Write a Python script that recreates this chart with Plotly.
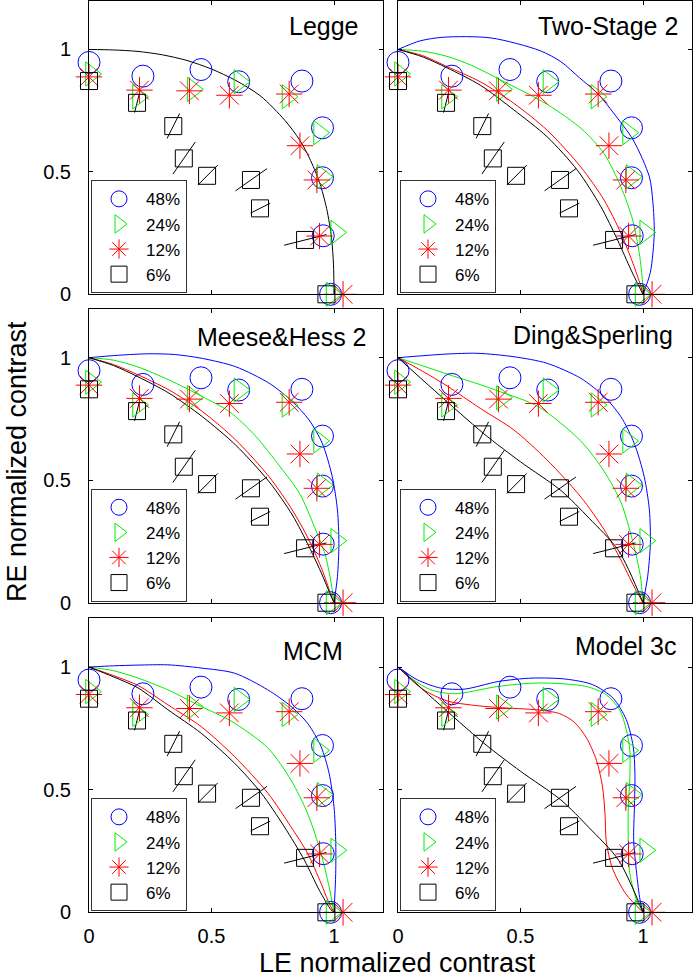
import plotly.graph_objects as go

W, H = 694, 979

# ---------------- measured data (LE, RE normalized contrast) ----------------
c48_x = [0.0, 0.22, 0.457, 0.611, 0.869, 0.953, 0.953, 0.956, 0.986]
c48_y = [0.947, 0.891, 0.918, 0.868, 0.871, 0.68, 0.476, 0.239, 0.0]
c24_x = [0.008, 0.2, 0.424, 0.614, 0.81, 0.939, 0.953, 1.009, 0.99]
c24_y = [0.9, 0.807, 0.837, 0.868, 0.807, 0.66, 0.48, 0.253, 0.0]
c12_x = [0.0, 0.206, 0.41, 0.573, 0.817, 0.861, 0.93, 0.941, 1.037]
c12_y = [0.888, 0.834, 0.831, 0.813, 0.818, 0.607, 0.467, 0.238, 0.0]
c6_x = [0.0, 0.196, 0.344, 0.387, 0.482, 0.661, 0.698, 0.882, 0.969]
c6_y = [0.871, 0.782, 0.687, 0.555, 0.484, 0.467, 0.351, 0.222, 0.0]
# radial confidence interval of the 6% data (fraction of the radius)
c6_lo = [0.99, 0.949, 0.927, 0.885, 0.921, 0.905, 0.945, 0.903, 0.99]
c6_hi = [1.01, 1.057, 1.075, 1.121, 1.09, 1.099, 1.06, 1.099, 1.01]

labels = ["48%", "24%", "12%", "6%"]

# ---------------- model curves ----------------
lg_k_x = [0, 0.1, 0.2, 0.3, 0.4, 0.5, 0.6, 0.7, 0.8, 0.86, 0.9, 0.94, 0.97, 0.99, 0.998, 1.0]
lg_k_y = [1.0, 0.998, 0.992, 0.978, 0.955, 0.92, 0.873, 0.81, 0.71, 0.63, 0.556, 0.46, 0.35, 0.23, 0.12, 0.0]

ts_b_x = [0, 0.09, 0.185, 0.38, 0.58, 0.665, 0.74, 0.817, 0.88, 0.96, 1.026, 1.04, 1.046, 1.03, 1.0]
ts_b_y = [1.0, 1.035, 1.05, 1.047, 0.995, 0.95, 0.885, 0.818, 0.74, 0.63, 0.48, 0.38, 0.249, 0.09, 0.0]
ts_g_x = [0, 0.1, 0.2, 0.3, 0.42, 0.61, 0.75, 0.84, 0.91, 0.958, 0.985, 0.998, 1.0]
ts_g_y = [1.0, 0.993, 0.972, 0.935, 0.875, 0.775, 0.675, 0.576, 0.439, 0.303, 0.167, 0.05, 0.0]
ts_r_x = [0, 0.1, 0.2, 0.336, 0.473, 0.609, 0.746, 0.841, 0.91, 0.964, 0.992, 1.0]
ts_r_y = [1.0, 0.975, 0.93, 0.868, 0.78, 0.67, 0.52, 0.385, 0.249, 0.113, 0.03, 0.0]
ts_k_x = [0, 0.1, 0.2, 0.336, 0.473, 0.609, 0.732, 0.828, 0.896, 0.951, 0.985, 1.0]
ts_k_y = [1.0, 0.97, 0.925, 0.854, 0.753, 0.643, 0.507, 0.358, 0.222, 0.1, 0.03, 0.0]

mh_b_x = [0, 0.12, 0.245, 0.35, 0.463, 0.599, 0.735, 0.83, 0.898, 0.952, 0.993, 1.014, 1.02, 1.014, 1.0]
mh_b_y = [1.0, 1.01, 1.016, 1.013, 0.997, 0.963, 0.896, 0.821, 0.746, 0.651, 0.514, 0.379, 0.242, 0.106, 0.0]
mh_g_x = [0, 0.1, 0.2, 0.327, 0.463, 0.573, 0.68, 0.78, 0.86, 0.92, 0.963, 0.985, 1.0]
mh_g_y = [1.0, 0.99, 0.962, 0.909, 0.841, 0.78, 0.68, 0.555, 0.445, 0.31, 0.2, 0.1, 0.0]
mh_r_x = [0, 0.1, 0.2, 0.327, 0.463, 0.599, 0.735, 0.83, 0.898, 0.952, 0.986, 1.0]
mh_r_y = [1.0, 0.972, 0.93, 0.868, 0.78, 0.664, 0.514, 0.378, 0.256, 0.133, 0.037, 0.0]
mh_k_x = [0, 0.1, 0.2, 0.327, 0.463, 0.599, 0.735, 0.83, 0.898, 0.952, 0.986, 1.0]
mh_k_y = [1.0, 0.968, 0.922, 0.855, 0.759, 0.643, 0.494, 0.358, 0.229, 0.113, 0.031, 0.0]

ds_b_x = [0, 0.1, 0.2, 0.322, 0.473, 0.609, 0.746, 0.842, 0.91, 0.964, 1.005, 1.026, 1.03, 1.019, 1.0]
ds_b_y = [1.0, 1.008, 1.015, 1.018, 1.004, 0.977, 0.916, 0.841, 0.759, 0.651, 0.514, 0.379, 0.242, 0.106, 0.0]
ds_g_x = [0, 0.1, 0.21, 0.336, 0.42, 0.573, 0.746, 0.842, 0.91, 0.958, 0.989, 1.0]
ds_g_y = [1.0, 0.967, 0.93, 0.89, 0.86, 0.8, 0.66, 0.535, 0.41, 0.25, 0.11, 0.0]
ds_r_x = [0, 0.1, 0.2, 0.336, 0.473, 0.609, 0.746, 0.842, 0.91, 0.964, 1.0]
ds_r_y = [1.0, 0.945, 0.885, 0.793, 0.705, 0.582, 0.432, 0.297, 0.174, 0.065, 0.0]
ds_k_x = [0, 0.15, 0.35, 0.5, 0.665, 0.78, 0.9, 1.0]
ds_k_y = [1.0, 0.865, 0.69, 0.575, 0.458, 0.345, 0.213, 0.0]

mc_b_x = [0, 0.1, 0.2, 0.322, 0.458, 0.594, 0.73, 0.824, 0.892, 0.947, 0.98, 1.0, 1.007, 1.007, 1.0]
mc_b_y = [1.0, 1.005, 1.008, 1.009, 0.996, 0.975, 0.907, 0.84, 0.771, 0.676, 0.567, 0.43, 0.295, 0.159, 0.0]
mc_g_x = [0, 0.1, 0.2, 0.322, 0.458, 0.58, 0.73, 0.824, 0.892, 0.947, 0.98, 1.0]
mc_g_y = [1.0, 0.985, 0.955, 0.907, 0.839, 0.78, 0.67, 0.54, 0.404, 0.24, 0.104, 0.0]
mc_r_x = [0, 0.1, 0.2, 0.322, 0.458, 0.594, 0.73, 0.824, 0.892, 0.947, 0.98, 1.0]
mc_r_y = [1.0, 0.965, 0.925, 0.846, 0.757, 0.635, 0.486, 0.349, 0.241, 0.118, 0.037, 0.0]
mc_k_x = [0, 0.1, 0.2, 0.322, 0.458, 0.594, 0.703, 0.797, 0.879, 0.94, 0.988, 1.0]
mc_k_y = [1.0, 0.96, 0.915, 0.826, 0.73, 0.608, 0.486, 0.349, 0.213, 0.09, 0.01, 0.0]

m3_b_x = [0, 0.079, 0.175, 0.271, 0.409, 0.547, 0.684, 0.795, 0.878, 0.932, 0.96, 0.967, 0.965, 0.962, 0.974, 0.988, 1.0]
m3_b_y = [1.0, 0.948, 0.914, 0.91, 0.941, 0.955, 0.951, 0.928, 0.873, 0.785, 0.676, 0.567, 0.431, 0.295, 0.159, 0.05, 0.0]
m3_g_x = [0, 0.06, 0.134, 0.23, 0.409, 0.574, 0.767, 0.85, 0.905, 0.932, 0.946, 0.946, 0.94, 0.94, 0.946, 0.974, 1.0]
m3_g_y = [1.0, 0.95, 0.907, 0.891, 0.921, 0.935, 0.921, 0.887, 0.825, 0.744, 0.663, 0.54, 0.431, 0.295, 0.159, 0.05, 0.0]
m3_r_x = [0, 0.1, 0.2, 0.3, 0.41, 0.573, 0.66, 0.72, 0.77, 0.81, 0.835, 0.845, 0.85, 0.875, 0.93, 1.0]
m3_r_y = [1.0, 0.91, 0.862, 0.845, 0.835, 0.825, 0.81, 0.775, 0.71, 0.62, 0.51, 0.4, 0.29, 0.18, 0.075, 0.0]
m3_k_x = [0, 0.15, 0.35, 0.5, 0.665, 0.78, 0.9, 1.0]
m3_k_y = [1.0, 0.865, 0.69, 0.575, 0.458, 0.345, 0.213, 0.0]

titles = ["Legge", "Two-Stage 2", "Meese&Hess 2", "Ding&Sperling", "MCM", "Model 3c"]

BLUE, GREEN, RED, BLACK = "#0000ff", "#00ee00", "#ff0000", "#000000"

panel_curves = [
    [(lg_k_x, lg_k_y, BLACK)],
    [(ts_b_x, ts_b_y, BLUE), (ts_g_x, ts_g_y, GREEN), (ts_r_x, ts_r_y, RED), (ts_k_x, ts_k_y, BLACK)],
    [(mh_b_x, mh_b_y, BLUE), (mh_g_x, mh_g_y, GREEN), (mh_r_x, mh_r_y, RED), (mh_k_x, mh_k_y, BLACK)],
    [(ds_b_x, ds_b_y, BLUE), (ds_g_x, ds_g_y, GREEN), (ds_r_x, ds_r_y, RED), (ds_k_x, ds_k_y, BLACK)],
    [(mc_b_x, mc_b_y, BLUE), (mc_g_x, mc_g_y, GREEN), (mc_r_x, mc_r_y, RED), (mc_k_x, mc_k_y, BLACK)],
    [(m3_b_x, m3_b_y, BLUE), (m3_g_x, m3_g_y, GREEN), (m3_r_x, m3_r_y, RED), (m3_k_x, m3_k_y, BLACK)],
]

# ---------------- layout geometry (pixels) ----------------
col_px = [(89, 383), (398, 692)]
row_px = [(0.5, 294.3), (308.7, 602.7), (618.0, 912.3)]
title_inset = [22, 12, 14, 17, 38, 14]
title_drop = [26, 26, 28, 26, 33, 28]
FONT = "Liberation Sans, Arial, Helvetica, sans-serif"

fig = go.Figure()
layout = dict(
    width=W, height=H, margin=dict(l=0, r=0, t=0, b=0, pad=0, autoexpand=False),
    paper_bgcolor="white", plot_bgcolor="white",
    font=dict(family=FONT, color="black", size=20),
    annotations=[],
)

for k in range(6):
    r, c = divmod(k, 2)
    n = "" if k == 0 else str(k + 1)
    xa, ya = "x" + n, "y" + n
    lg = "legend" + n
    x0, x1 = col_px[c]
    yt, yb = row_px[r]

    # model curves
    for cx, cy, col in panel_curves[k]:
        fig.add_trace(go.Scatter(x=cx, y=cy, mode="lines", xaxis=xa, yaxis=ya,
                                 line=dict(color=col, width=1, shape="spline", smoothing=0.8),
                                 showlegend=False, hoverinfo="skip", cliponaxis=False))
    # radial error bars of the 6% data
    ex, ey = [], []
    for px, py, lo, hi in zip(c6_x, c6_y, c6_lo, c6_hi):
        ex += [px * lo, px * hi, None]
        ey += [py * lo, py * hi, None]
    fig.add_trace(go.Scatter(x=ex, y=ey, mode="lines", xaxis=xa, yaxis=ya,
                             line=dict(color=BLACK, width=1), showlegend=False,
                             hoverinfo="skip", cliponaxis=False))
    # data markers
    series = [
        (c48_x, c48_y, "circle-open", 22, BLUE),
        (c24_x, c24_y, "triangle-right-open", 21, GREEN),
        (c12_x, c12_y, "asterisk-open", 22, RED),
        (c6_x, c6_y, "square-open", 17, BLACK),
    ]
    for (sx, sy, sym, sz, col), lab in zip(series, labels):
        fig.add_trace(go.Scatter(x=sx, y=sy, mode="markers", name=lab, xaxis=xa, yaxis=ya,
                                 legend=lg, cliponaxis=False,
                                 marker=dict(symbol=sym, size=sz, color=col,
                                             line=dict(color=col, width=1))))

    axis_common = dict(range=[0, 1.2], tickvals=[0, 0.5, 1], ticktext=["0", "0.5", "1"],
                       ticks="inside", ticklen=4, tickcolor="black", tickwidth=1,
                       showline=True, linecolor="black", linewidth=1, mirror="ticks",
                       showgrid=False, zeroline=False, fixedrange=True, automargin=False,
                       tickfont=dict(size=20, family=FONT, color="black"))
    layout["xaxis" + n] = dict(axis_common, domain=[x0 / W, x1 / W], anchor=ya,
                               showticklabels=(r == 2), ticklabelstandoff=6)
    layout["yaxis" + n] = dict(axis_common, domain=[1 - yb / H, 1 - yt / H], anchor=xa,
                               showticklabels=(c == 0), ticklabelstandoff=13)
    layout[lg] = dict(x=(x0 + 2) / W, y=1 - (yb - 1) / H, xanchor="left", yanchor="bottom",
                      bgcolor="white", bordercolor="#333333", borderwidth=1,
                      font=dict(size=17, family=FONT, color="black"),
                      itemwidth=44, tracegroupgap=0)
    layout["annotations"].append(dict(
        text=titles[k], xref=xa + " domain", yref=ya + " domain",
        x=1 - title_inset[k] / 294, y=1 - title_drop[k] / 294,
        xanchor="right", yanchor="middle", showarrow=False,
        font=dict(size=25, family=FONT, color="black")))

layout["annotations"].append(dict(
    text="RE normalized contrast", xref="paper", yref="paper",
    x=17 / W, y=1 - 462 / H, textangle=-90, xanchor="center", yanchor="middle",
    showarrow=False, font=dict(size=27, family=FONT, color="black")))
layout["annotations"].append(dict(
    text="LE normalized contrast", xref="paper", yref="paper",
    x=397 / W, y=1 - 963 / H, xanchor="center", yanchor="middle",
    showarrow=False, font=dict(size=27, family=FONT, color="black")))

fig.update_layout(**layout)
# the page's default 8px body margin would shift the figure; remove it
fig.write_html("out.html", config={"displayModeBar": False},
               post_script="document.body.style.margin='0px';document.body.style.overflow='hidden';")
